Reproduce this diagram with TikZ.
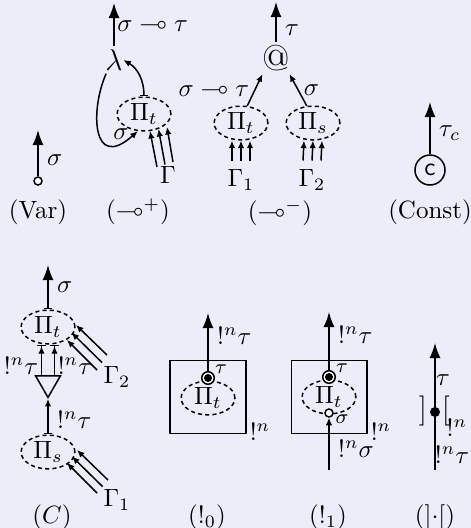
\documentclass[tikz,border=0pt]{standalone}
\usepackage{amsmath}
\usepackage{amssymb}
\usepackage{tikz}
\usepackage{xcolor}
\usetikzlibrary{calc,arrows.meta,shapes.geometric}
\definecolor{paper}{RGB}{237,237,249}

\begin{document}
\begin{tikzpicture}[x=0.4pt, y=-0.4pt, line width=0.6pt]
    % Styles for proof boxes, ports and arrows
    \tikzstyle{proof} = [ellipse, draw, dash pattern=on 1.6pt off 1.3pt, minimum width=21.5pt, minimum height=13.5pt, inner sep=0pt]
    \tikzstyle{arrow} = [-{Latex[length=3pt,width=2.6pt]}]
    \tikzstyle{outarrow} = [-{Latex[length=6pt,width=4.4pt]}]
    \tikzstyle{portout} = [{Bar[width=3.5pt]}-{Latex[length=6pt,width=4.4pt]}]
    \tikzstyle{portarrow} = [{Bar[width=3.5pt]}-{Latex[length=3pt,width=2.6pt]}]
    \tikzstyle{portin} = [-{Latex[length=3pt,width=2.6pt]Bar[width=3.5pt]}]
    \tikzstyle{dblcirc} = [circle, draw, fill=white, minimum size=5pt, inner sep=0pt, path picture={\fill[black] (path picture bounding box.center) circle (1.6pt);}]
    \tikzstyle{opencirc} = [circle, draw, fill=white, minimum size=3.2pt, inner sep=0pt]
    \tikzstyle{bangbox} = [draw, minimum width=30.2pt, minimum height=29.2pt]
    \tikzstyle{small} = [font=\footnotesize, inner sep=1pt]

    \useasboundingbox (0,0) rectangle (471,528);
    \fill[paper] (0,0) rectangle (471,528);

  % (Var)
    \node[opencirc] (var) at (38,181) {};
    \coordinate (varout) at (38,130);
    \draw[outarrow] (var) -- (varout) node[pos=0.35, right] {$\sigma$};
    \node (varname) at (38,212) {(Var)};

  % lambda abstraction
    \node[inner sep=1pt] (lam) at (114,60) {\fontsize{13}{15}\selectfont$\lambda$};
    \coordinate (lamout) at (114,3);
    \draw[outarrow] (lam.north) -- (lamout) node[midway, right, inner sep=1pt] {$\sigma\multimap\tau$};
    \node[proof] (pt1) at (144,114) {$\Pi_t$};
    \draw[portarrow] (pt1.north) to[out=90, in=-30] ([xshift=-1pt]lam.east);
    \draw[arrow] (lam.240) .. controls (90,110) and (92,172) .. (pt1.250);
    \node (sig1) at (121,134) {$\sigma$};
    \node (gam1) at (168,175) {$\Gamma$};
    \foreach \i in {0,1,2}
      \draw[arrow] ($(gam1)+(-11+8*\i,-8-2.5*\i)$) -- ($(pt1)+(6+8.5*\i,17-2*\i)$);
    \node (lamname) at (138,212) {$(\multimap^+)$};

  % application
    \node[inner sep=1pt] (app) at (276,58) {\Large @};
    \coordinate (appout) at (276,2);
    \draw[outarrow] (app) -- (appout) node[pos=0.3, right] {$\tau$};
    \node[proof] (pt2) at (241,123) {$\Pi_t$};
    \node[proof] (ps2) at (313,123) {$\Pi_s$};
    \draw[arrow] (pt2.70) -- (app.-130) node[midway, left, inner sep=2pt] {$\sigma\multimap\tau$};
    \draw[arrow] (ps2.110) -- (app.-50) node[midway, right, inner sep=2pt] {$\sigma$};
    \node (gam2) at (241,180) {$\Gamma_1$};
    \node (gam3) at (312,180) {$\Gamma_2$};
    \foreach \s in {-3.6pt,0pt,3.6pt} {
      \draw[arrow] ([xshift=\s]gam2.north) -- ([xshift=\s]pt2.south);
      \draw[arrow] ([xshift=\s]gam3.north) -- ([xshift=\s]ps2.south);
    }
    \node (appname) at (280,213) {$(\multimap^-)$};

  % (Const)
    \node[circle, draw, minimum size=12pt, inner sep=0pt, font=\sffamily] (cst) at (430,170) {c};
    \coordinate (cstout) at (430,102);
    \draw[outarrow] (cst) -- (cstout) node[pos=0.4, right] {$\tau_c$};
    \node (cstname) at (430,212) {(Const)};

  % contraction
    \node[proof] (pt3) at (48,327) {$\Pi_t$};
    \coordinate (pt3out) at (48,265);
    \draw[portout] (pt3) -- (pt3out) node[midway, right] {$\sigma$};
    \node[regular polygon, regular polygon sides=3, shape border rotate=180, draw, minimum size=11.5pt, inner sep=0pt] (tri) at (48,383) {};
    \draw[portin] ([xshift=-2.6pt]tri.north) -- ([xshift=-2.6pt]pt3.south) node[pos=0.3, left, inner sep=1pt] {$!^n\tau$};
    \draw[portin] ([xshift=2.6pt]tri.north) -- ([xshift=2.6pt]pt3.south) node[pos=0.3, right, inner sep=1pt] {$!^n\tau$};
    \node[proof] (ps3) at (48,452) {$\Pi_s$};
    \draw[portarrow] (ps3) -- (tri.south) node[pos=0.4, right] {$!^n\tau$};
    \node (gam4) at (117,377) {$\Gamma_2$};
    \node (gam5) at (117,500) {$\Gamma_1$};
    \foreach \i in {0,1,2} {
      \draw[arrow] ($(gam4)+(-20+5*\i,-7-7.5*\i)$) -- ($(pt3)+(19+4.5*\i,13-7.5*\i)$);
      \draw[arrow] ($(gam5)+(-20+5.5*\i,-7-6.5*\i)$) -- ($(ps3)+(19+5*\i,11-6.5*\i)$);
    }
    \node (cname) at (52,517) {$(C)$};

  % promotion, no premise
    \node[bangbox] (box0) at (208,397) {};
    \node[proof] (pt4) at (208,398) {$\Pi_t$};
    \node[dblcirc] (dc0) at (208,378) {};
    \coordinate (dc0out) at (208,313);
    \draw[outarrow] (dc0) -- (dc0out) node[pos=0.6, right] {$!^n\tau$};
    \node[small] (tau0) at (221,369) {$\tau$};
    \node[anchor=west, inner sep=1pt, yshift=1pt] (bang0) at (box0.south east) {$!^n$};
    \node (bname0) at (207,517) {$(!_0)$};

  % promotion, one premise
    \node[bangbox] (box1) at (329,397) {};
    \node[proof] (pt5) at (329,397) {$\Pi_t$};
    \node[dblcirc] (dc1) at (329,377) {};
    \node[opencirc] (sc1) at (329,413) {};
    \coordinate (dc1out) at (329,312);
    \coordinate (sc1in) at (329,470);
    \draw[outarrow] (dc1) -- (dc1out) node[pos=0.6, right] {$!^n\tau$};
    \draw[arrow] (sc1in) -- (sc1) node[pos=0.4, right] {$!^n\sigma$};
    \node[small] (tau1) at (342,368) {$\tau$};
    \node[small] (sig5) at (342,419) {$\sigma$};
    \node[anchor=west, inner sep=1pt, yshift=1pt] (bang1) at (box1.south east) {$!^n$};
    \node (bname1) at (328,517) {$(!_1)$};

  % box door
    \coordinate (bin) at (435,470);
    \coordinate (bout) at (435,343);
    \draw[outarrow] (bin) -- (bout);
    \node[circle, fill, minimum size=4pt, inner sep=0pt] (bdot) at (435,412) {};
    \node (lbr) at (423,411) {\large$]$};
    \node (rbr) at (446,411) {\large$[$};
    \node (bang2) at (457,428) {$!^n$};
    \node (tau2) at (443,380) {$\tau$};
    \node (bt2) at (452,455) {$!^n\tau$};
    \node (dname) at (435,517) {$(]{\cdot}[)$};

\end{tikzpicture}
\end{document}
